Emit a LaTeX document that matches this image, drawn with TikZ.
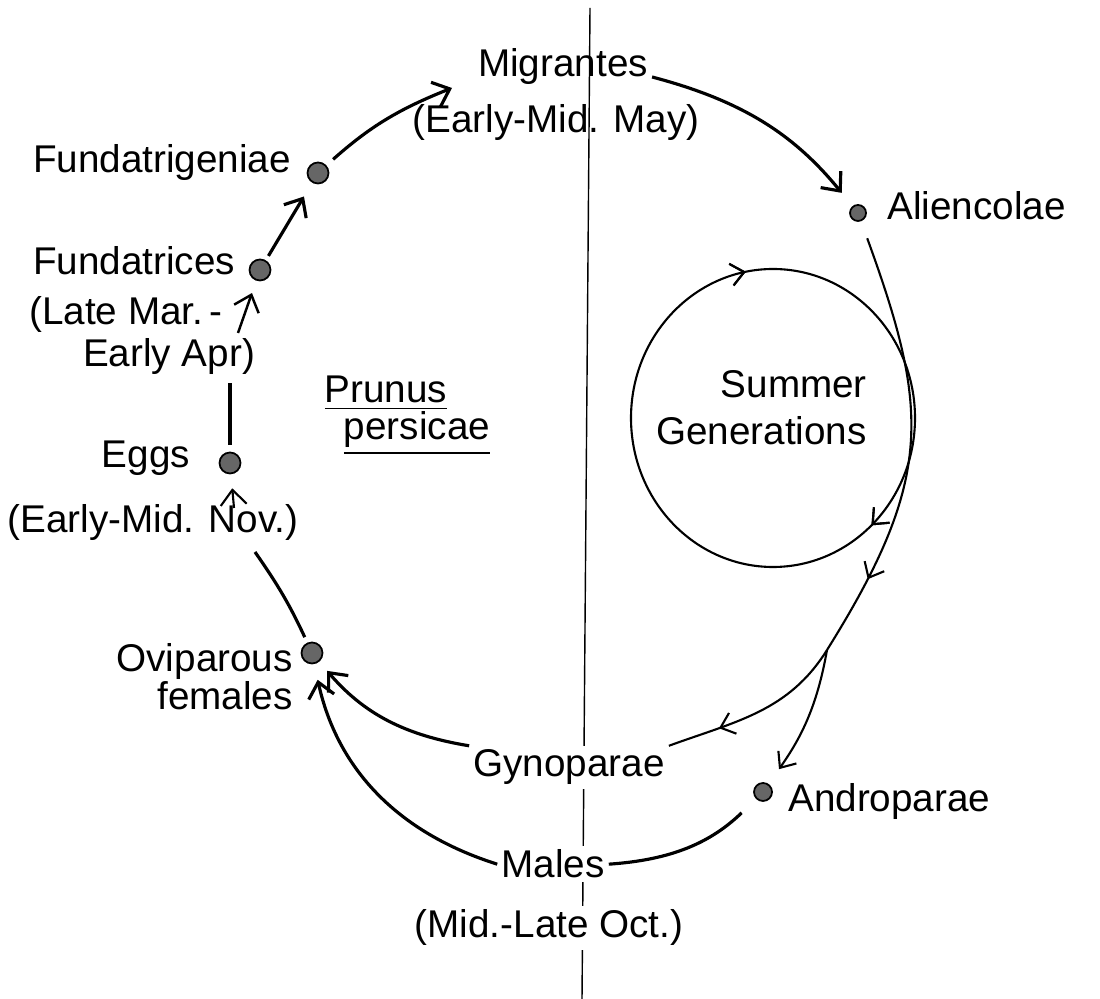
\documentclass[tikz,border=0pt]{standalone}
\usepackage{fontspec}
\setmainfont{Liberation Sans}
\usetikzlibrary{arrows.meta,decorations.markings}

\begin{document}
\begin{tikzpicture}[
  txt/.style={inner sep=1pt, font=\fontsize{11}{11}\selectfont},
  stagedot/.style={circle, draw=black, fill=black!60, line width=0.5pt, inner sep=0pt, minimum size=2.1mm},
  flow/.style={line width=0.9pt, -{Straight Barb[length=1.5mm,width=2.6mm]}},
  thinflow/.style={line width=0.6pt},
  midarrow/.style={postaction={decorate}, decoration={markings, mark=at position #1 with {\arrow{Straight Barb[length=1.3mm,width=2.2mm]}}}}
]
  %%%%% START %%%%%
  \useasboundingbox (0,0) rectangle (11,9.99);

  % host plant border
  \draw[line width=0.4pt] (5.90,9.91) -- (5.82,0);

  % winter host (left)
  \node[txt, anchor=base] (migr) at (5.63,9.22) {Migrantes};
  \node[txt, anchor=base] (migrdate) at (5.56,8.66) {(Early-Mid. May)};

  \node[txt, anchor=base] (fgen) at (1.62,8.26) {Fundatrigeniae};
  \node[stagedot] (fgendot) at (3.18,8.26) {};

  \node[txt, anchor=base] (ftr) at (1.34,7.24) {Fundatrices};
  \node[stagedot] (ftrdot) at (2.60,7.29) {};
  \node[txt, anchor=base] (ftrdate) at (1.26,6.74) {(Late Mar.\,-};
  \node[txt, anchor=base] (ftrdate2) at (1.69,6.32) {Early Apr)};

  \node[txt, anchor=base] (eggs) at (1.46,5.31) {Eggs};
  \node[stagedot] (eggsdot) at (2.30,5.36) {};
  \node[txt, anchor=base] (eggsdate) at (1.53,4.66) {(Early-Mid. Nov.)};

  \node[txt, anchor=base east] (ovi) at (2.97,3.27) {Oviparous};
  \node[txt, anchor=base east] (ovi2) at (2.97,2.89) {females};
  \node[stagedot] (ovidot) at (3.12,3.46) {};

  \node[txt, anchor=base] (prunus) at (3.86,5.96) {\underline{Prunus}};
  \node[txt, anchor=base] (persicae) at (4.17,5.59) {\underline{persicae}};

  % summer host (right)
  \node[stagedot, minimum size=1.6mm] (alidot) at (8.58,7.86) {};
  \node[txt, anchor=base west] (ali) at (8.83,7.79) {Aliencolae};

  \draw[thinflow, midarrow=0.22, midarrow=0.63] ([shift={(180:1.42 and 1.49)}]7.73,5.81) arc[start angle=180, end angle=-180, x radius=1.42, y radius=1.49];
  \node[txt, anchor=base east] (summer) at (8.71,6.01) {Summer};
  \node[txt, anchor=base east] (summer2) at (8.71,5.54) {Generations};

  \node[stagedot, minimum size=1.8mm] (anddot) at (7.63,2.07) {};
  \node[txt, anchor=base west] (andro) at (7.84,1.87) {Androparae};

  \node[txt, anchor=base, fill=white] (gyn) at (5.69,2.22) {Gynoparae};
  \node[txt, anchor=base, fill=white] (males) at (5.53,1.21) {Males};
  \node[txt, anchor=base, fill=white] (octdate) at (5.49,0.61) {(Mid.-Late Oct.)};

  \coordinate (migin) at (4.52,9.11);
  \coordinate (aprlow) at (2.38,6.66);
  \coordinate (aprtop) at (2.30,6.16);
  \coordinate (novlow) at (2.34,4.91);
  \coordinate (novtop) at (2.55,4.47);
  \coordinate (split) at (8.27,3.49);

  % life cycle
  \draw[flow, shorten <=0.9mm] (fgendot) to[bend left=10] (migin);
  \draw[flow, shorten <=0.5mm, shorten >=1.6mm] (ftrdot) -- (fgendot);
  \draw[flow, line width=0.7pt, shorten >=1.3mm] (aprlow) -- (ftrdot);
  \draw[line width=0.9pt, shorten <=0.7mm] (eggsdot) -- (aprtop);
  \draw[flow, line width=0.6pt, shorten >=1.4mm] (novlow) -- (eggsdot);
  \draw[line width=0.9pt, shorten <=0.6mm] (ovidot) to[bend right=5] (novtop);
  \draw[flow, shorten >=1.2mm] (gyn.north west) to[bend left=20] (ovidot);
  \draw[flow, shorten >=1.6mm] (males.west) to[bend left=30] (ovidot);
  \draw[flow, shorten >=1.7mm] (migr.base east) to[bend left=18] (alidot);

  \draw[thinflow, midarrow=0.82, shorten <=1.8mm] (alidot) to[out=-70, in=58, looseness=1.2] (split);
  \draw[thinflow, midarrow=0.72] (split) to[out=-122, in=20] (gyn.north east);
  \draw[thinflow, -{Straight Barb[length=1.3mm,width=2.2mm]}, shorten >=1.8mm] (split) to[out=-100, in=55] (anddot);
  \draw[line width=0.9pt, shorten <=2mm] (anddot) to[bend left=20] (males.east);

  %%%%% END %%%%%
\end{tikzpicture}
\end{document}
